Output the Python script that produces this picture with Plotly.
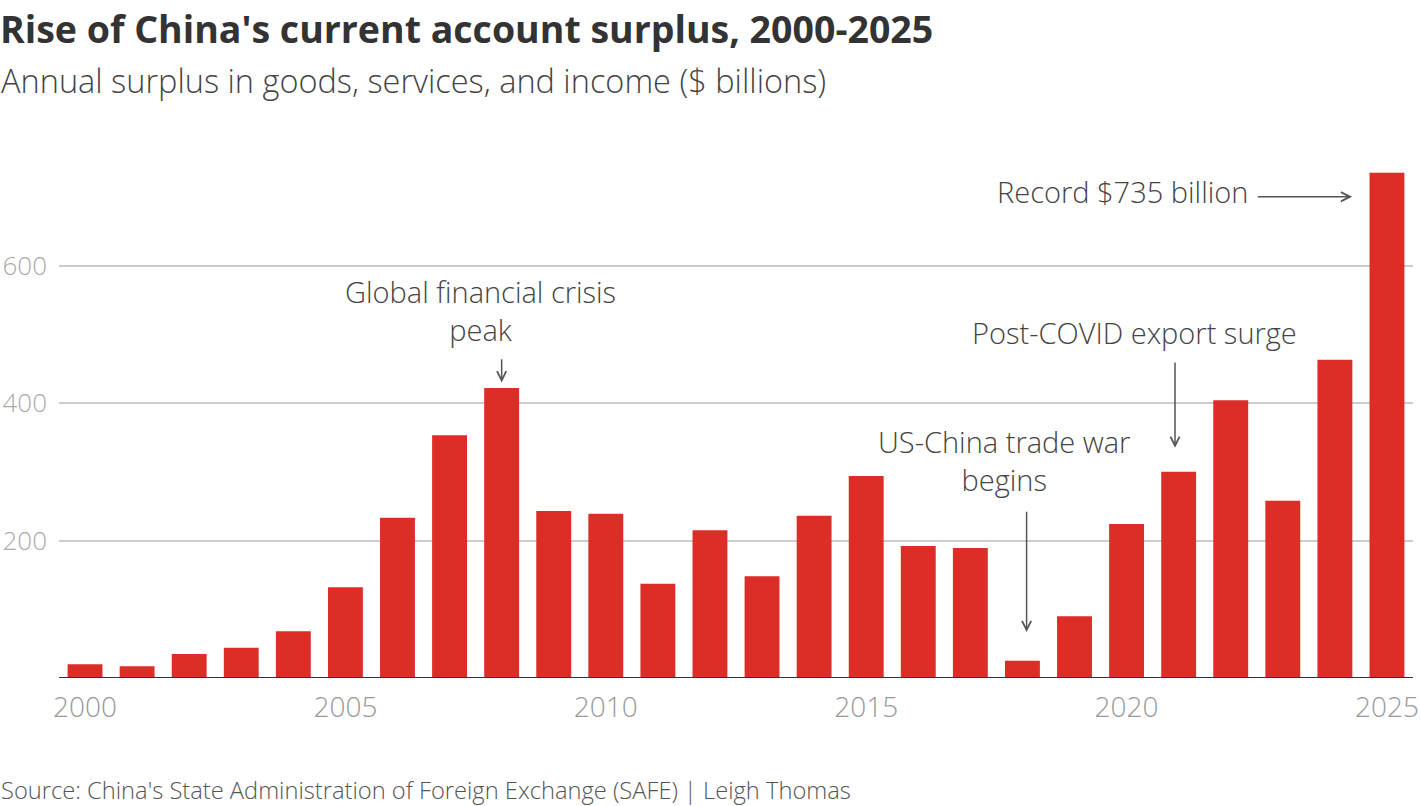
import plotly.graph_objects as go

years = list(range(2000, 2026))
surplus = [20, 17, 35, 44, 68, 132, 233, 353, 422, 243, 239, 137, 215, 148, 236,
           294, 192, 189, 25, 90, 224, 300, 404, 258, 463, 735]
x_ticks = [2000, 2005, 2010, 2015, 2020, 2025]
y_ticks = [200, 400, 600]

FONT = "Open Sans"
W, H = 1420, 806
ML, MR, MT, MB = 59, 7, 160, 128
PW, PH = W - ML - MR, H - MT - MB
YMAX = PH / 0.6875

def py(p):
    return (H - MB - p) / PH

def px_x(p):
    return (p - ML) / PW

fig = go.Figure()
fig.add_trace(go.Bar(x=years, y=surplus, marker=dict(color="#dc2d27", line=dict(width=0)),
                     hoverinfo="x+y"))

fig.update_layout(
    width=W, height=H,
    margin=dict(l=ML, r=MR, t=MT, b=MB, autoexpand=False),
    paper_bgcolor="white", plot_bgcolor="white",
    bargap=0.33, showlegend=False,
    font=dict(family=FONT, color="#444", weight=300),
    xaxis=dict(range=[1999.5, 2025.5], tickvals=x_ticks, ticktext=[str(v) for v in x_ticks],
               showgrid=False, zeroline=False, showline=False, ticks="", automargin=False,
               tickfont=dict(size=28, color="#999", family=FONT, weight=300),
               ticklabelstandoff=10),
    yaxis=dict(range=[0, YMAX], tickvals=y_ticks, ticktext=[str(v) for v in y_ticks],
               showgrid=True, gridcolor="#cccccc", gridwidth=1.5, zeroline=False,
               showline=False, ticks="", automargin=False,
               tickfont=dict(size=26, color="#aaa", family=FONT, weight=300),
               ticklabelstandoff=11),
)

# baseline
fig.add_shape(type="line", xref="paper", yref="y", x0=0, x1=1, y0=0, y1=0,
              line=dict(color="#333", width=2))

ann = []
ann.append(dict(text="Rise of China's current account surplus, 2000-2025", xref="paper", yref="paper",
                x=px_x(-2), y=py(29), xanchor="left", yanchor="middle", showarrow=False,
                font=dict(size=37.5, color="#333", family=FONT, weight=700)))
ann.append(dict(text="Annual surplus in goods, services, and income ($ billions)", xref="paper", yref="paper",
                x=px_x(-1), y=py(80), xanchor="left", yanchor="middle", showarrow=False,
                font=dict(size=32.5, color="#444", family=FONT, weight=300)))
ann.append(dict(text="Source: China's State Administration of Foreign Exchange (SAFE) | Leigh Thomas",
                xref="paper", yref="paper", x=px_x(-1), y=py(790), xanchor="left", yanchor="middle",
                showarrow=False, font=dict(size=23.7, color="#555", family=FONT, weight=300)))

lab = dict(size=29, color="#444", family=FONT, weight=300)
ann.append(dict(text="Record $735 billion", x=2022.37, y=707, xanchor="right", yanchor="middle",
                showarrow=False, font=lab))
ann.append(dict(text="Global financial crisis<br>peak", x=2007.6, y=535, xanchor="center",
                yanchor="middle", showarrow=False, font=lab))
ann.append(dict(text="Post-COVID export surge", x=2020.15, y=502, xanchor="center",
                yanchor="middle", showarrow=False, font=lab))
ann.append(dict(text="US-China trade war<br>begins", x=2017.65, y=316, xanchor="center",
                yanchor="middle", showarrow=False, font=lab))

arr = dict(text="", showarrow=True, arrowhead=5, arrowsize=1.2, arrowwidth=1.5,
           arrowcolor="#555", axref="x", ayref="y", standoff=0)
ann.append(dict(arr, x=2024.33, y=700, ax=2022.49, ay=700))
ann.append(dict(arr, x=2008.0, y=430, ax=2008.0, ay=466))
ann.append(dict(arr, x=2020.93, y=335, ax=2020.93, ay=461))
ann.append(dict(arr, x=2018.08, y=67, ax=2018.08, ay=244))

fig.update_layout(annotations=ann)
fig.write_html("out.html")
